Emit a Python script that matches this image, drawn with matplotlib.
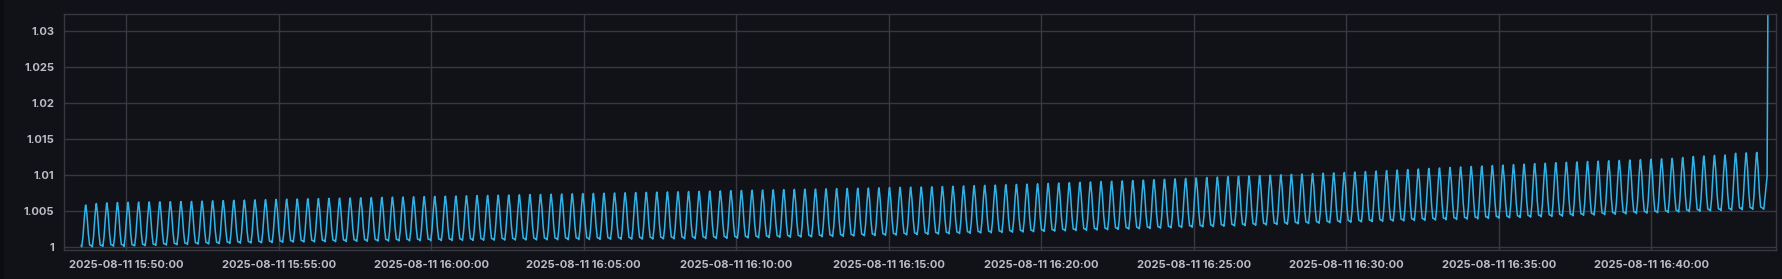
import numpy as np
import pandas as pd
import matplotlib
matplotlib.use("Agg")
import matplotlib.pyplot as plt
import matplotlib.dates as mdates
from matplotlib.patches import Rectangle

# ---------------- data ----------------
first_cycle_start = "2025-08-11 15:48:31.8"
cycle_period_s = 20.8

# waveform shape of one oscillation (fraction of period, fraction trough->peak)
cycle_phase = [0.00, 0.05, 0.16, 0.30, 0.40, 0.44, 0.55, 0.68, 0.80, 0.92]
cycle_level = [0.03, 0.00, 0.22, 0.70, 0.98, 1.00, 0.75, 0.30, 0.04, 0.03]

cycle_peaks = [
    1.00580, 1.00600, 1.00610, 1.00614, 1.00617, 1.00620, 1.00622, 1.00624, 1.00626, 1.00628,
    1.00630, 1.00634, 1.00638, 1.00641, 1.00645, 1.00648, 1.00652, 1.00655, 1.00658, 1.00661,
    1.00664, 1.00667, 1.00669, 1.00672, 1.00675, 1.00677, 1.00680, 1.00683, 1.00686, 1.00689,
    1.00691, 1.00694, 1.00697, 1.00700, 1.00702, 1.00705, 1.00708, 1.00711, 1.00713, 1.00716,
    1.00719, 1.00722, 1.00725, 1.00727, 1.00730, 1.00733, 1.00736, 1.00738, 1.00741, 1.00744,
    1.00747, 1.00750, 1.00753, 1.00756, 1.00759, 1.00762, 1.00764, 1.00767, 1.00770, 1.00773,
    1.00776, 1.00779, 1.00782, 1.00785, 1.00788, 1.00791, 1.00794, 1.00797, 1.00800, 1.00802,
    1.00805, 1.00808, 1.00810, 1.00813, 1.00816, 1.00819, 1.00822, 1.00825, 1.00828, 1.00830,
    1.00833, 1.00837, 1.00841, 1.00845, 1.00849, 1.00853, 1.00857, 1.00862, 1.00866, 1.00870,
    1.00875, 1.00880, 1.00885, 1.00890, 1.00895, 1.00900, 1.00905, 1.00910, 1.00915, 1.00920,
    1.00926, 1.00932, 1.00938, 1.00944, 1.00950, 1.00956, 1.00962, 1.00968, 1.00974, 1.00980,
    1.00985, 1.00990, 1.00995, 1.01000, 1.01006, 1.01011, 1.01016, 1.01022, 1.01027, 1.01032,
    1.01038, 1.01045, 1.01052, 1.01059, 1.01066, 1.01073, 1.01080, 1.01088, 1.01095, 1.01102,
    1.01109, 1.01116, 1.01122, 1.01129, 1.01135, 1.01142, 1.01148, 1.01155, 1.01161, 1.01168,
    1.01174, 1.01179, 1.01185, 1.01190, 1.01195, 1.01200, 1.01206, 1.01211, 1.01216, 1.01222,
    1.01228, 1.01240, 1.01255, 1.01262, 1.01270, 1.01275, 1.01300, 1.01305, 1.01312,
]

cycle_troughs = [
    1.00000, 0.99998, 1.00005, 1.00006, 1.00003, 1.00010, 1.00014, 1.00018, 1.00022, 1.00027,
    1.00032, 1.00035, 1.00038, 1.00042, 1.00045, 1.00048, 1.00051, 1.00054, 1.00057, 1.00060,
    1.00063, 1.00065, 1.00067, 1.00068, 1.00070, 1.00072, 1.00073, 1.00075, 1.00077, 1.00078,
    1.00080, 1.00081, 1.00082, 1.00083, 1.00084, 1.00085, 1.00086, 1.00087, 1.00088, 1.00090,
    1.00091, 1.00092, 1.00093, 1.00094, 1.00095, 1.00096, 1.00097, 1.00098, 1.00099, 1.00100,
    1.00102, 1.00103, 1.00104, 1.00105, 1.00106, 1.00108, 1.00109, 1.00110, 1.00111, 1.00112,
    1.00114, 1.00116, 1.00118, 1.00121, 1.00123, 1.00126, 1.00128, 1.00131, 1.00133, 1.00136,
    1.00138, 1.00141, 1.00144, 1.00148, 1.00151, 1.00154, 1.00158, 1.00161, 1.00164, 1.00168,
    1.00171, 1.00175, 1.00178, 1.00182, 1.00186, 1.00190, 1.00193, 1.00197, 1.00201, 1.00204,
    1.00208, 1.00212, 1.00216, 1.00220, 1.00224, 1.00228, 1.00232, 1.00236, 1.00240, 1.00244,
    1.00248, 1.00252, 1.00257, 1.00261, 1.00266, 1.00270, 1.00275, 1.00279, 1.00284, 1.00288,
    1.00293, 1.00298, 1.00302, 1.00307, 1.00312, 1.00317, 1.00321, 1.00326, 1.00331, 1.00336,
    1.00340, 1.00344, 1.00348, 1.00351, 1.00355, 1.00359, 1.00363, 1.00367, 1.00370, 1.00374,
    1.00378, 1.00383, 1.00387, 1.00392, 1.00396, 1.00401, 1.00406, 1.00410, 1.00415, 1.00419,
    1.00424, 1.00429, 1.00435, 1.00440, 1.00445, 1.00451, 1.00456, 1.00461, 1.00466, 1.00472,
    1.00477, 1.00482, 1.00487, 1.00492, 1.00497, 1.00502, 1.00508, 1.00514, 1.00520,
]

# final samples: last trough, rise, spike
tail_times = ["2025-08-11 16:43:41", "2025-08-11 16:43:47.5", "2025-08-11 16:43:49"]
tail_values = [1.00520, 1.00980, 1.03230]

x_range = ["2025-08-11 15:47:58", "2025-08-11 16:44:05"]
y_range = [0.99954, 1.03236]
y_ticks = [1.0, 1.005, 1.01, 1.015, 1.02, 1.025, 1.03]
y_tick_labels = ["1", "1.005", "1.01", "1.015", "1.02", "1.025", "1.03"]
x_ticks = ["2025-08-11 15:50:00", "2025-08-11 15:55:00", "2025-08-11 16:00:00",
           "2025-08-11 16:05:00", "2025-08-11 16:10:00", "2025-08-11 16:15:00",
           "2025-08-11 16:20:00", "2025-08-11 16:25:00", "2025-08-11 16:30:00",
           "2025-08-11 16:35:00", "2025-08-11 16:40:00"]

# ---------------- build series ----------------
t0 = pd.Timestamp(first_cycle_start)
times, vals = [], []
for k, (pk, tr) in enumerate(zip(cycle_peaks, cycle_troughs)):
    start = t0 + pd.Timedelta(seconds=k * cycle_period_s)
    for ph, lv in zip(cycle_phase, cycle_level):
        times.append(start + pd.Timedelta(seconds=ph * cycle_period_s))
        vals.append(tr + lv * (pk - tr))
for t, v in zip(tail_times, tail_values):
    times.append(pd.Timestamp(t))
    vals.append(v)
series = pd.Series(vals, index=pd.DatetimeIndex(times))

# ---------------- style ----------------
BG = "#111217"
GRID = "#383842"
TXT = "#bcbcc5"
LINE = "#31b3e8"

plt.rcParams['font.family'] = ['Inter', 'DejaVu Sans']

W, H = 1782, 279
fig = plt.figure(figsize=(W / 100, H / 100), dpi=100, facecolor=BG)
fig.patches.append(Rectangle((0, 0), 4 / W, 1, transform=fig.transFigure,
                             facecolor="#0b0c0f", edgecolor="none", zorder=-1))
ax = fig.add_axes([64 / W, 1 - 250 / H, (1776 - 64) / W, (250 - 14) / H])
ax.set_facecolor(BG)

ax.plot(series.index, series.values, color=LINE, lw=1.1, solid_joinstyle="round")

ax.set_xlim(pd.Timestamp(x_range[0]), pd.Timestamp(x_range[1]))
ax.set_ylim(*y_range)
ax.set_yticks(y_ticks)
ax.set_yticklabels(y_tick_labels)
ax.set_xticks([pd.Timestamp(t) for t in x_ticks])
ax.xaxis.set_major_formatter(mdates.DateFormatter("%Y-%m-%d %H:%M:%S"))

ax.grid(True, color=GRID, lw=1.0)
for s in ax.spines.values():
    s.set_color(GRID)
    s.set_linewidth(1.0)
ax.tick_params(axis="both", length=0, colors=TXT, labelsize=8.0)
ax.tick_params(axis="y", pad=7)
ax.tick_params(axis="x", pad=7)
for lab in ax.get_xticklabels() + ax.get_yticklabels():
    lab.set_fontweight("bold")
    lab.set_color(TXT)

fig.savefig("out.png", dpi=100, facecolor=BG)
